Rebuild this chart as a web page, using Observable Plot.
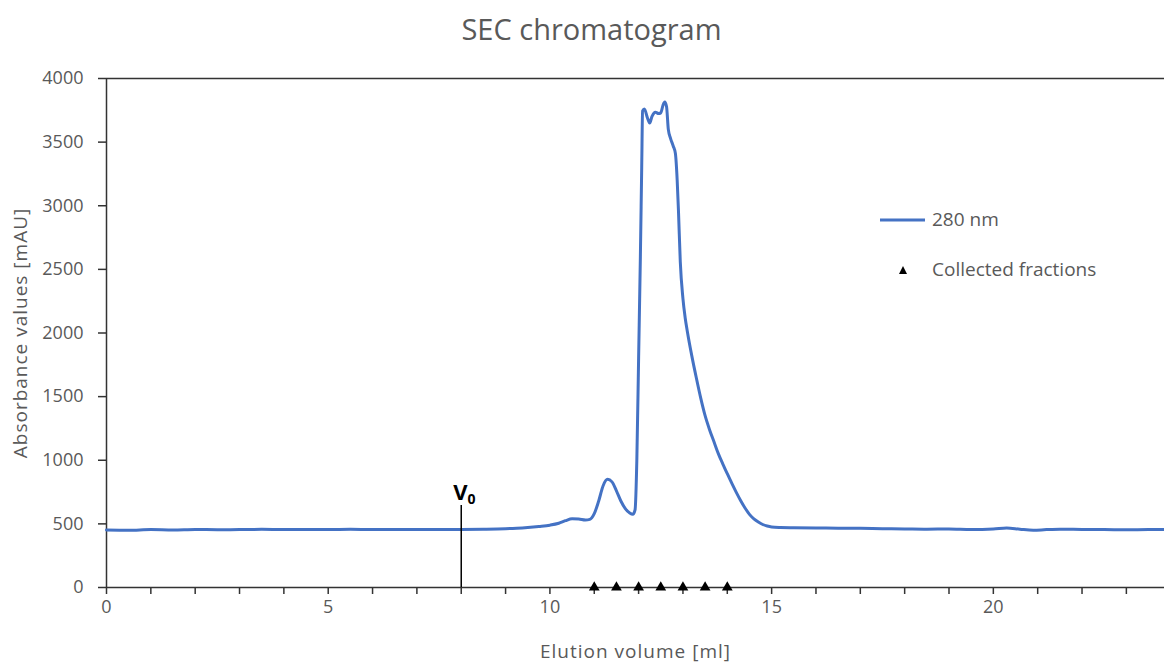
<!DOCTYPE html>
<html><head><meta charset="utf-8">
<script src="https://cdn.jsdelivr.net/npm/d3@7"></script>
<script src="https://cdn.jsdelivr.net/npm/@observablehq/plot@0.6"></script>
<style>
body{margin:0;background:#fff;font-family:"Open Sans",sans-serif;}
#wrap{position:relative;width:1164px;height:664px;overflow:hidden;}
#title{box-sizing:border-box;width:1164px;height:60px;line-height:57px;padding-left:19px;text-align:center;font-size:29px;color:#595959;}
.leg{position:absolute;font-size:19px;color:#595959;white-space:nowrap;line-height:20px;}
</style></head><body>
<div id="wrap">
<div id="title">SEC chromatogram</div>
<div id="chart"></div>
<div class="leg" style="left:878px;top:209px;"><svg width="50" height="20" style="vertical-align:top"><line x1="2" x2="47" y1="11" y2="11" stroke="#4472C4" stroke-width="3"/></svg><span style="margin-left:4px">280 nm</span></div>
<div class="leg" style="left:878px;top:259px;"><svg width="50" height="20" style="vertical-align:top"><path d="M25,7 L29,15 L21,15 Z" fill="#000"/></svg><span style="margin-left:4px">Collected fractions</span></div>
</div>
<script>
const volume = [0, 0.5, 1, 1.5, 2, 2.5, 3, 3.5, 4, 4.5, 5, 5.5, 6, 6.5, 7, 7.5, 8, 8.5, 9, 9.25, 9.5, 9.75, 10, 10.2, 10.35, 10.5, 10.65, 10.8, 10.9, 11.0, 11.1, 11.2, 11.3, 11.4, 11.5, 11.6, 11.7, 11.8, 11.87, 11.92, 11.96, 12.0, 12.04, 12.07, 12.09, 12.13, 12.2, 12.25, 12.3, 12.38, 12.45, 12.5, 12.55, 12.59, 12.63, 12.67, 12.72, 12.78, 12.83, 12.87, 12.9, 12.94, 13.0, 13.05, 13.1, 13.2, 13.3, 13.4, 13.5, 13.6, 13.7, 13.8, 13.9, 14.0, 14.1, 14.2, 14.3, 14.4, 14.5, 14.6, 14.7, 14.8, 14.9, 15.0, 15.2, 15.5, 16, 16.5, 17, 17.5, 18, 18.5, 19, 19.5, 20, 20.3, 20.6, 20.9, 21.2, 21.5, 22, 22.5, 23, 23.5, 23.86];
const absorbance = [452, 450, 455, 452, 456, 454, 455, 457, 455, 456, 455, 457, 455, 456, 455, 455, 456, 458, 462, 466, 472, 480, 490, 505, 525, 540, 538, 530, 535, 580, 680, 800, 850, 830, 760, 680, 620, 585, 575, 610, 1000, 1800, 2600, 3300, 3745, 3760, 3690, 3650, 3700, 3735, 3725, 3730, 3790, 3815, 3780, 3600, 3530, 3470, 3410, 3200, 2950, 2560, 2270, 2120, 2010, 1820, 1650, 1490, 1350, 1240, 1145, 1050, 970, 894, 820, 750, 684, 625, 575, 540, 515, 495, 483, 476, 472, 470, 468, 466, 465, 462, 460, 458, 460, 456, 460, 468, 458, 450, 455, 458, 456, 455, 454, 455, 455];
const fractions = [11, 11.5, 12, 12.5, 13, 13.5, 14];
const voidVolume = 8;
const voidMarkerTop = 644;
const xTicks = d3.range(0, 24, 1);
const xLabels = [0, 5, 10, 15, 20];
const yTicks = d3.range(0, 4001, 500);
const xMax = 23.86;
const yMax = 4000;

const data = volume.map((v, i) => ({v, a: absorbance[i]}));

const chart = Plot.plot({
  width: 1164, height: 604,
  marginLeft: 106, marginRight: 0, marginTop: 18, marginBottom: 77,
  x: {domain: [0, xMax]},
  y: {domain: [0, yMax]},
  style: {fontFamily: "'Open Sans', sans-serif", fontSize: "18px", color: "#595959", background: "white", overflow: "visible"},
  marks: [
    Plot.axisY({ticks: yTicks, tickSize: 8, tickPadding: 15, tickFormat: d => String(d), label: null, stroke: "#333", fill: "#595959", strokeWidth: 1.5, fontSize: 18}),
    Plot.axisX({ticks: xTicks, tickSize: 7, tickPadding: 6, tickFormat: d => xLabels.includes(d) ? String(d) : "", label: null, stroke: "#333", fill: "#595959", strokeWidth: 1.5, fontSize: 18}),
    Plot.ruleY([yMax], {stroke: "#333", strokeWidth: 1.5}),
    Plot.ruleY([0], {stroke: "#333", strokeWidth: 1.5}),
    Plot.ruleX([0], {stroke: "#333", strokeWidth: 1.5}),
    Plot.line(data, {x: "v", y: "a", stroke: "#4472C4", strokeWidth: 3, curve: "monotone-x"}),
    Plot.ruleX([voidVolume], {y1: 0, y2: voidMarkerTop, stroke: "#000", strokeWidth: 1.5}),
    Plot.text([voidVolume], {x: d => d, y: voidMarkerTop, text: () => "V", className: "v0", textAnchor: "start", lineAnchor: "bottom", dx: -8, dy: -6, fontWeight: "bold", fontSize: 22, fill: "#000"}),
    Plot.dot(fractions, {x: d => d, y: 0, symbol: "triangle", fill: "#000", r: 4}),
    Plot.text(["Absorbance values [mAU]"], {frameAnchor: "left", rotate: -90, dx: -86, textAnchor: "middle", text: d => d, fill: "#595959", fontSize: 19, className: "axtitle"}),
    Plot.text(["Elution volume [ml]"], {frameAnchor: "bottom", dy: 70, textAnchor: "middle", text: d => d, fill: "#595959", fontSize: 19, className: "axtitle"})
  ]
});
document.getElementById("chart").appendChild(chart);
d3.select(chart).selectAll(".axtitle text").style("letter-spacing", "1px");
d3.select(chart).selectAll(".v0 text").each(function() {
  d3.select(this).append("tspan").attr("font-size", "14px").attr("dy", "0.3em").text("0");
});
</script>
</body></html>
